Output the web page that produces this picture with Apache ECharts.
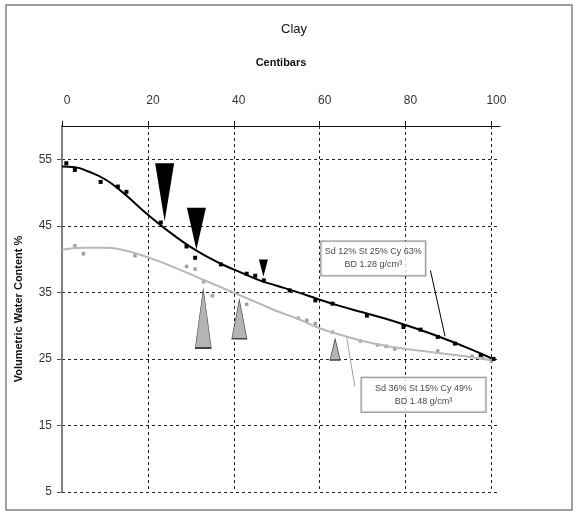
<!DOCTYPE html>
<html>
<head>
<meta charset="utf-8">
<script src="https://cdn.jsdelivr.net/npm/echarts@6/dist/echarts.min.js"></script>
<style>
  html, body { margin: 0; padding: 0; background: #fff; }
  #chart { width: 578px; height: 515px; }
</style>
</head>
<body>
<div id="chart"></div>
<script>
// Tick values shown on the axes
const xTickValues = [0, 20, 40, 60, 80, 100];
const yTickValues = [5, 15, 25, 35, 45, 55];

// Sd 12% St 25% Cy 63%, BD 1.28 g/cm3 : fitted curve and measured points
const clayFit = [
  [0, 53.9], [3, 53.8], [6, 53.2], [10, 52.0], [14, 50.1], [18, 47.8], [22, 45.6],
  [26, 43.6], [30, 41.8], [34, 40.3], [38, 39.0], [42, 37.9], [46, 36.8], [50, 36.0],
  [55, 35.0], [60, 33.9], [65, 32.9], [70, 32.0], [75, 31.1], [80, 30.1], [85, 29.0],
  [90, 27.8], [95, 26.5], [100, 25.1]
];
const clayPoints = [
  [1, 54.4], [3, 53.4], [9, 51.6], [13, 50.9], [15, 50.1], [23, 45.5], [29, 41.9],
  [31, 40.2], [37, 39.2], [43, 37.8], [45, 37.5], [47, 36.8], [53, 35.3], [59, 33.8],
  [63, 33.3], [71, 31.5], [79.5, 29.8], [83.5, 29.4], [87.5, 28.3], [91.5, 27.3],
  [97.5, 25.6], [100.5, 25.0]
];

// Sd 36% St 15% Cy 49%, BD 1.48 g/cm3 : fitted curve and measured points
const sandyClayFit = [
  [0, 41.4], [5, 41.7], [10, 41.7], [14, 41.4], [18, 40.7], [22, 39.8], [26, 38.8],
  [30, 37.7], [34, 36.6], [38, 35.5], [42, 34.4], [46, 33.3], [50, 32.2], [55, 31.0],
  [60, 29.6], [65, 28.6], [70, 27.7], [75, 27.0], [80, 26.5], [85, 26.1], [90, 25.7],
  [95, 25.3], [100, 24.8]
];
const sandyClayPoints = [
  [3, 42.0], [5, 40.8], [17, 40.5], [29, 38.9], [31, 38.5], [33, 36.6], [35, 34.5],
  [43, 33.2], [55, 31.1], [57, 30.8], [59, 30.3], [63, 29.0], [69.5, 27.7], [73.5, 27.1],
  [75.5, 26.9], [77.5, 26.5], [87.5, 26.2], [95.5, 25.4], [98, 25.1], [100, 24.7]
];

// Arrow-head markers: tip positions on each curve
const clayArrowTips = [[23.9, 45.7], [31.3, 41.4], [46.9, 37.4]];
const sandyClayArrowTips = [[32.9, 35.5], [41.3, 33.9], [63.6, 28.0]];
const clayArrowSizes = [[19, 58], [19, 42], [9, 17]];
const sandyClayArrowSizes = [[16, 59], [15, 39], [10, 21]];

// Legend boxes: text, box centre and leader line ends
const clayLabel = ['Sd 12% St 25% Cy 63%', 'BD 1.28 g/cm³'];
const sandyClayLabel = ['Sd 36% St 15% Cy 49%', 'BD 1.48 g/cm³'];
const clayLabelAt = [72.5, 40.1];
const sandyClayLabelAt = [84.2, 19.6];
const clayLeader = [[85.8, 38.3], [89.2, 28.4]];
const sandyClayLeader = [[66.3, 28.2], [68.2, 20.9]];

const FONT = '"Liberation Sans", Arial, sans-serif';

function arrowSeries(tips, sizes, down, fill, stroke) {
  return {
    type: 'scatter',
    symbol: 'triangle',
    z: 4,
    silent: true,
    data: tips.map((p, i) => ({
      value: p,
      symbolSize: sizes[i],
      symbolRotate: down ? 180 : 0,
      symbolOffset: [0, down ? -sizes[i][1] / 2 : sizes[i][1] / 2]
    })),
    itemStyle: { color: fill, opacity: 1, borderColor: stroke, borderWidth: down ? 0 : 1 }
  };
}

function labelSeries(at, lines, boxWidth, leader, leaderColor) {
  return {
    type: 'scatter',
    symbolSize: 0,
    z: 6,
    silent: true,
    data: [{ value: at }],
    label: {
      show: true,
      position: 'inside',
      formatter: lines.join('\n'),
      fontFamily: FONT,
      fontSize: 9,
      lineHeight: 13,
      color: '#111',
      align: 'center',
      width: boxWidth,
      padding: [4, 0],
      backgroundColor: '#fff',
      borderColor: '#666',
      borderWidth: 1
    },
    markLine: {
      silent: true,
      symbol: ['none', 'none'],
      label: { show: false },
      lineStyle: { color: leaderColor, width: 1, type: 'solid' },
      data: [[{ coord: leader[0] }, { coord: leader[1] }]]
    }
  };
}

const chart = echarts.init(document.getElementById('chart'));
chart.setOption({
  animation: false,
  backgroundColor: '#fff',
  title: {
    text: 'Clay',
    left: 289,
    textAlign: 'center',
    top: 18,
    textStyle: { fontFamily: FONT, fontSize: 13, fontWeight: 'normal', color: '#111' }
  },
  graphic: [{
    type: 'rect',
    shape: { x: 6, y: 5, width: 566, height: 505 },
    style: { fill: 'none', stroke: '#808080', lineWidth: 1.5 },
    silent: true
  }],
  grid: { left: 62, top: 126, right: 78, bottom: 23 },
  xAxis: {
    type: 'value',
    position: 'top',
    min: 0,
    max: 102,
    interval: 20,
    name: 'Centibars',
    nameLocation: 'middle',
    nameGap: 58,
    nameTextStyle: { fontFamily: FONT, fontSize: 11, fontWeight: 'bold', color: '#111' },
    axisLine: { show: true, lineStyle: { color: '#111', width: 1 } },
    axisTick: { show: true, length: 5, customValues: xTickValues, lineStyle: { color: '#111' } },
    axisLabel: {
      customValues: xTickValues,
      margin: 19,
      padding: [0, 0, 0, 10],
      fontFamily: FONT,
      fontSize: 12,
      color: '#333'
    },
    splitLine: {
      show: true,
      lineStyle: {
        color: ['#222', '#222', '#222', '#222', '#222', '#222', 'rgba(0,0,0,0)'],
        type: [3, 3],
        width: 1
      }
    }
  },
  yAxis: {
    type: 'value',
    min: 5,
    max: 60,
    interval: 10,
    name: 'Volumetric Water Content %',
    nameLocation: 'middle',
    nameGap: 38,
    nameTextStyle: { fontFamily: FONT, fontSize: 11, fontWeight: 'bold', color: '#111' },
    axisLine: { show: true, lineStyle: { color: '#808080', width: 2 } },
    axisTick: { show: true, length: 5, customValues: yTickValues, lineStyle: { color: '#555' } },
    axisLabel: {
      customValues: yTickValues,
      margin: 10,
      fontFamily: FONT,
      fontSize: 12,
      color: '#333'
    },
    splitLine: { show: true, lineStyle: { color: '#222', type: [3, 3], width: 1 } }
  },
  series: [
    {
      type: 'scatter',
      symbol: 'rect',
      symbolSize: 3.5,
      z: 2,
      silent: true,
      itemStyle: { color: '#a0a0a0', opacity: 1 },
      data: sandyClayPoints
    },
    {
      type: 'line',
      smooth: true,
      showSymbol: false,
      z: 3,
      silent: true,
      lineStyle: { color: '#b8b8b8', width: 2 },
      data: sandyClayFit
    },
    {
      type: 'scatter',
      symbol: 'rect',
      symbolSize: 4,
      z: 2,
      silent: true,
      itemStyle: { color: '#000', opacity: 1 },
      data: clayPoints
    },
    {
      type: 'line',
      smooth: true,
      showSymbol: false,
      z: 3,
      silent: true,
      lineStyle: { color: '#000', width: 2 },
      data: clayFit
    },
    arrowSeries(clayArrowTips, clayArrowSizes, true, '#000', '#000'),
    arrowSeries(sandyClayArrowTips, sandyClayArrowSizes, false, '#b4b4b4', '#444'),
    labelSeries(clayLabelAt, clayLabel, 104, clayLeader, '#000'),
    labelSeries(sandyClayLabelAt, sandyClayLabel, 124, sandyClayLeader, '#a0a0a0')
  ]
});
</script>
</body>
</html>
